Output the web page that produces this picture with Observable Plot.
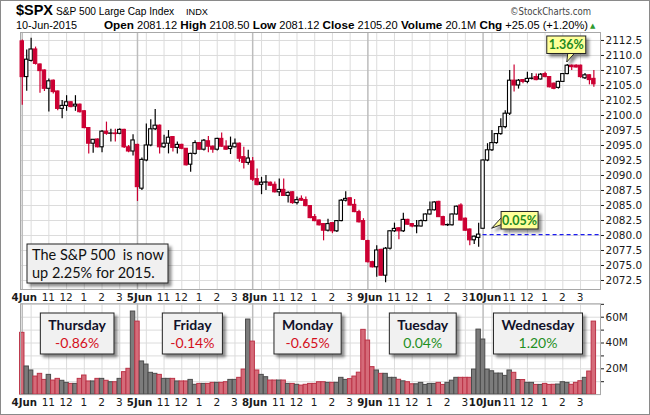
<!DOCTYPE html>
<html>
<head>
<meta charset="utf-8">
<script src="https://cdn.jsdelivr.net/npm/d3@7"></script>
<script src="https://cdn.jsdelivr.net/npm/@observablehq/plot@0.6"></script>
<style>
html,body{margin:0;padding:0;background:#fff;}
#wrap{position:relative;width:650px;height:415px;overflow:hidden;background:#fff;}
#wrap svg{position:absolute;left:0;}
#frame{position:absolute;left:0;top:0;width:648px;height:413px;border:1px solid #8a8a8a;pointer-events:none;}
</style>
</head>
<body>
<div id="wrap"><div id="frame"></div></div>
<script>
// ---- data: 15-minute bars, 4–10 June 2015 ----
const opens = [
2112.35,2106.4,2109.1,2111.0,2108.5,2107.5,2104.45,2105.8,2104.0,2101.1,2101.6,2102.2,2101.5,2101.8,2100.7,2097.9,2095.3,2096.0,2094.7,2097.3,2096.95,2097.0,2096.95,2097.6,2094.7,2094.0,
2095.1,2087.8,2092.5,2095.0,2097.7,2098.3,2094.7,2095.3,2096.4,2094.6,2095.1,2094.45,2091.8,2093.6,2095.4,2094.3,2095.7,2094.8,2094.3,2096.1,2094.8,2094.4,2094.7,2095.3,2093.06,2092.1,
2092.34,2089.4,2088.45,2088.8,2088.8,2088.45,2087.2,2087.6,2086.6,2087.2,2085.4,2086.1,2085.9,2084.9,2083.06,2082.5,2081.9,2080.8,2082.06,2080.7,2082.4,2085.8,2086.2,2085.1,2083.9,2082.4,
2079.07,2075.55,2074.7,2077.6,2073.3,2077.8,2080.7,2081.2,2080.7,2082.6,2081.9,2081.5,2081.5,2082.4,2083.5,2084.2,2085.6,2083.06,2081.7,2081.7,2083.5,2085.0,2082.8,2081.0,2079.2,2079.6,
2081.12,2092.5,2094.2,2095.4,2096.9,2098.06,2100.3,2105.8,2105.0,2105.9,2105.6,2106.1,2106.4,2106.0,2106.9,2106.4,2105.3,2104.6,2105.6,2106.9,2108.3,2108.3,2108.3,2106.2,2106.7,2106.1];
const highs = [
2112.6,2110.9,2112.89,2111.4,2108.6,2107.6,2106.1,2105.9,2104.1,2102.5,2103.3,2102.3,2103.3,2101.9,2100.8,2098.0,2096.0,2096.1,2097.5,2098.9,2097.7,2097.7,2097.8,2097.7,2095.0,2096.8,
2095.2,2092.9,2098.6,2099.3,2100.99,2098.4,2096.7,2097.5,2096.5,2095.6,2095.2,2094.5,2093.7,2095.8,2095.5,2096.0,2096.5,2094.9,2096.2,2097.1,2095.8,2096.4,2096.1,2095.4,2094.7,2094.2,
2093.01,2091.1,2089.7,2090.0,2088.9,2088.9,2089.4,2089.4,2087.3,2087.3,2086.4,2086.6,2086.4,2085.0,2083.5,2082.6,2082.0,2082.7,2082.1,2082.5,2086.0,2087.3,2086.3,2086.0,2084.2,2082.8,
2079.2,2075.7,2078.3,2077.7,2078.0,2080.8,2082.06,2081.3,2083.7,2082.7,2082.0,2082.5,2082.6,2083.6,2085.6,2085.62,2085.7,2083.2,2081.9,2083.6,2084.9,2085.3,2082.9,2081.1,2079.9,2082.06,
2092.6,2095.3,2097.5,2097.0,2099.45,2100.8,2107.5,2108.4,2106.0,2106.0,2107.2,2107.0,2106.9,2107.0,2107.2,2106.5,2105.4,2105.7,2107.0,2108.5,2108.4,2108.45,2108.4,2107.0,2106.8,2107.5];
const lows = [
2101.7,2104.05,2108.9,2108.4,2103.7,2104.0,2100.6,2103.6,2100.8,2099.45,2100.7,2101.3,2100.7,2100.4,2097.8,2093.6,2093.7,2094.6,2093.8,2096.7,2095.6,2095.6,2096.8,2094.5,2093.8,2093.23,
2085.67,2087.5,2092.3,2094.8,2097.5,2093.6,2094.5,2093.6,2093.9,2093.6,2094.3,2091.6,2090.55,2093.4,2094.2,2094.1,2093.8,2093.7,2094.1,2094.7,2094.2,2093.5,2094.6,2092.2,2091.1,2091.7,
2089.0,2088.3,2086.8,2087.5,2088.2,2087.1,2086.5,2086.5,2085.4,2085.2,2085.1,2085.7,2084.8,2082.8,2082.3,2081.6,2079.11,2080.6,2080.3,2080.5,2082.3,2085.6,2084.9,2083.8,2082.1,2079.15,
2075.4,2074.6,2073.06,2073.2,2072.14,2077.6,2080.5,2079.3,2080.5,2081.7,2081.3,2080.3,2081.4,2082.3,2083.4,2084.1,2083.0,2081.6,2081.5,2081.6,2083.4,2082.4,2080.7,2078.3,2078.5,2078.06,
2081.12,2092.3,2094.0,2095.2,2096.7,2097.8,2100.0,2103.9,2104.4,2105.3,2105.3,2105.9,2105.8,2105.9,2106.3,2104.6,2104.3,2104.4,2105.5,2106.8,2107.5,2107.9,2106.2,2106.0,2105.1,2104.7];
const closes = [
2106.4,2109.3,2111.0,2108.6,2107.4,2104.45,2105.7,2103.9,2101.1,2101.6,2102.2,2101.4,2101.8,2100.55,2097.9,2095.3,2095.95,2094.7,2097.3,2096.95,2097.0,2096.9,2097.6,2094.7,2094.0,2095.84,
2088.06,2092.6,2095.0,2097.7,2098.3,2094.7,2095.3,2096.3,2094.6,2095.1,2094.45,2091.7,2093.6,2095.4,2094.3,2095.8,2094.8,2094.3,2096.1,2094.8,2094.3,2094.8,2095.3,2092.8,2092.1,2092.83,
2089.3,2088.4,2088.8,2088.85,2088.3,2087.2,2087.6,2086.6,2087.1,2085.4,2085.9,2085.8,2084.9,2082.9,2082.4,2081.7,2080.8,2081.9,2080.7,2082.4,2085.8,2086.1,2085.0,2083.9,2082.2,2079.28,
2075.55,2074.7,2077.5,2073.3,2077.8,2080.7,2081.1,2080.7,2082.6,2081.8,2081.5,2081.55,2082.4,2083.5,2084.2,2085.5,2083.06,2081.7,2081.75,2083.5,2084.8,2082.5,2080.8,2079.2,2079.8,2080.15,
2092.5,2094.2,2095.4,2096.9,2098.06,2100.3,2105.8,2105.0,2105.8,2105.6,2106.1,2106.15,2105.9,2106.8,2106.4,2104.7,2104.45,2105.6,2106.9,2108.3,2108.06,2108.0,2106.4,2106.7,2105.9,2105.2];
const volumes = [ // millions of shares
47.9,21.8,18.7,14.0,16.1,11.4,15.3,10.9,12.2,10.7,9.1,8.3,8.3,12.2,14.8,10.2,10.2,12.2,12.2,10.7,9.6,9.6,12.2,17.4,20.0,64.4,
56.6,25.7,23.3,16.9,16.1,15.3,12.2,12.2,12.2,10.2,10.2,10.2,11.4,7.6,8.3,8.3,8.3,9.1,9.1,9.1,9.6,11.4,11.4,13.0,19.4,58.2,
41.1,18.7,15.3,13.5,10.9,10.9,10.9,10.9,8.3,8.3,7.6,7.0,7.6,8.3,8.3,9.6,9.6,9.1,9.1,9.1,13.0,11.4,12.0,14.0,17.0,50.2,
41.9,21.3,18.7,16.1,16.1,13.0,13.0,11.5,10.3,9.6,8.0,8.0,9.1,7.5,8.3,8.3,9.1,7.5,9.1,10.8,13.0,13.0,13.0,13.0,19.4,50.4,
42.7,19.4,18.1,16.3,16.3,14.5,18.7,16.9,11.3,11.3,9.1,9.1,7.5,7.5,8.3,7.5,7.6,7.8,9.6,9.1,7.6,9.1,10.4,13.0,17.9,56.6];

const dayLabels = ["4Jun","5Jun","8Jun","9Jun","10Jun"];
const dayNames = ["Thursday","Friday","Monday","Tuesday","Wednesday"];
const dayChanges = ["-0.86%","-0.14%","-0.65%","0.04%","1.20%"];
const gridHours = [10,11,12,13,14,15];
const priceTicks = [2072.5,2075,2077.5,2080,2082.5,2085,2087.5,2090,2092.5,2095,2097.5,2100,2102.5,2105,2107.5,2110,2112.5];
const volumeGrid = [10,20,30,40,50,60,70];
const volumeLabels = [20,40,60];
const prevClose = 2080.15;
const noteLines = ["The S&P 500  is now","up 2.25% for 2015."];
const headerTitle = ["$SPX","S&P 500 Large Cap Index","INDX"];
const headerDate = "10-Jun-2015";
const headerStats = [["Open","2081.12"],["High","2108.50"],["Low","2081.12"],["Close","2105.20"],["Volume","20.1M"],["Chg","+25.05 (+1.20%)"]];
const credit = "\u00A9StockCharts.com";

// ---- derived ----
const barsPerDay = 26;
const bars = opens.map((o,i)=>({i, o, h: highs[i], l: lows[i], c: closes[i], v: volumes[i], up: closes[i] >= o}));
const dayStarts = dayLabels.map((_,k)=>k*barsPerDay);
const hourIndex = h => (h*60 - 570)/15;
const hourLines = dayStarts.flatMap(s => gridHours.map(h => s + hourIndex(h)));
const hourText = dayStarts.flatMap(s => gridHours.filter(h=>h>=11).map(h => ({x: s + hourIndex(h), t: String(h%12||12)})));

const RED = "#cc0033", VRED = "#d56b79", VREDS = "#bb3347", VGRAY = "#7c7c7c", VGRAYS = "#4c4c4c";
const xDomain = [-0.4, 130.5];
const AX = "#1a1a1a";

const dayLabelMark = () => Plot.text(dayStarts, {x: d => d, frameAnchor: "bottom", dy: 8, dx: 2, lineAnchor: "middle",
  text: (d,k) => dayLabels[k], fontWeight: "bold", fontSize: 10.2, fill: AX});
const hourLabelMark = () => Plot.text(hourText, {x: "x", frameAnchor: "bottom", dy: 8, dx: -0.5, lineAnchor: "middle",
  text: "t", fontSize: 10.5, fill: AX});

const priceChart = Plot.plot({
  width: 650, height: 300,
  marginTop: 32, marginBottom: 11, marginLeft: 20, marginRight: 50,
  x: {type: "linear", domain: xDomain, axis: null},
  y: {domain: [2071.0, 2113.83], axis: null, label: null},
  color: {type: "identity"},
  style: {fontFamily: "'DejaVu Sans', sans-serif", fontSize: "10.5px", color: AX, background: "transparent", overflow: "visible"},
  marks: [
    Plot.ruleY(priceTicks, {stroke: "#dcdcdc", strokeWidth: 1}),
    Plot.ruleX(hourLines, {stroke: "#dcdcdc", strokeWidth: 1}),
    Plot.ruleX(dayStarts, {stroke: "#bdbdbd", strokeWidth: 1.5}),
    Plot.frame({stroke: "#a8a8a8"}),
    Plot.ruleY([prevClose], {x1: dayStarts[4], x2: xDomain[1], stroke: "#1c1cf0", strokeDasharray: "4,3", strokeWidth: 1.2}),
    Plot.ruleX(bars, {x: "i", y1: "l", y2: "h", stroke: d => d.up ? "#000" : RED, strokeWidth: 1.2}),
    Plot.rect(bars, {x1: d => d.i - 0.38, x2: d => d.i + 0.38, y1: "o", y2: "c",
      fill: d => d.up ? "#fff" : RED, stroke: d => d.up ? "#000" : RED, strokeWidth: 1.1}),
    Plot.axisY(priceTicks, {anchor: "right", tickSize: 3, tickPadding: 2, tickFormat: d => d.toFixed(1), label: null, fontSize: 10.5}),
    dayLabelMark(),
    hourLabelMark()
  ]
});
priceChart.style.top = "0px";
document.getElementById("wrap").appendChild(priceChart);

const volChart = Plot.plot({
  width: 650, height: 115,
  marginTop: 3.3, marginBottom: 20.9, marginLeft: 20, marginRight: 50,
  x: {type: "linear", domain: xDomain, axis: null},
  y: {domain: [0, 70.4], axis: null, label: null},
  color: {type: "identity"},
  style: {fontFamily: "'DejaVu Sans', sans-serif", fontSize: "10.5px", color: AX, background: "transparent", overflow: "visible"},
  marks: [
    Plot.ruleY(volumeGrid, {stroke: "#dcdcdc"}),
    Plot.ruleX(hourLines, {stroke: "#dcdcdc"}),
    Plot.ruleX(dayStarts, {stroke: "#bdbdbd", strokeWidth: 1.5}),
    Plot.rect(bars, {x1: d => d.i - 0.5, x2: d => d.i + 0.5, y1: d => 0, y2: "v",
      fill: d => d.up ? VGRAY : VRED, stroke: d => d.up ? VGRAYS : VREDS, strokeWidth: 1}),
    Plot.frame({stroke: "#a8a8a8"}),
    Plot.axisY(volumeGrid, {anchor: "right", tickSize: 3, tickPadding: 2, tickFormat: d => volumeLabels.includes(d) ? d + "M" : "", label: null, fontSize: 10.5}),
    dayLabelMark(),
    hourLabelMark()
  ]
});
const VOLTOP = 300;
volChart.style.top = VOLTOP + "px";
document.getElementById("wrap").appendChild(volChart);

// ---- overlay: header and annotations ----
const xs = priceChart.scale("x"), ys = priceChart.scale("y");
const ov = d3.select("#wrap").append("svg").attr("width", 650).attr("height", 415)
  .style("top", "0px").style("pointer-events", "none");
const defs = ov.append("defs");
defs.append("filter").attr("id", "sh").attr("x", "-20%").attr("y", "-30%").attr("width", "150%").attr("height", "170%")
  .append("feDropShadow").attr("dx", 3).attr("dy", 3).attr("stdDeviation", 1.6)
  .attr("flood-color", "#000").attr("flood-opacity", 0.45);

const SANS = "'Liberation Sans', Arial, sans-serif";
// header line 1
ov.append("text").attr("x", 16).attr("y", 15.3).attr("font-family", SANS).attr("font-weight", "bold")
  .attr("font-size", 14).attr("fill", "#000").attr("textLength", 37).attr("lengthAdjust", "spacingAndGlyphs").text(headerTitle[0]);
ov.append("text").attr("x", 56).attr("y", 15.3).attr("font-family", SANS).attr("font-size", 10.2)
  .attr("fill", "#000").text(headerTitle[1]);
ov.append("text").attr("x", 186).attr("y", 15.3).attr("font-family", SANS).attr("font-size", 9.2)
  .attr("fill", "#000").text(headerTitle[2]);
ov.append("text").attr("x", 510).attr("y", 15.3).attr("font-family", "'DejaVu Sans', sans-serif").attr("font-size", 10)
  .attr("fill", "#444").attr("textLength", 81).attr("lengthAdjust", "spacingAndGlyphs").text(credit);
// header line 2
ov.append("text").attr("x", 16).attr("y", 28.5).attr("font-family", SANS).attr("font-size", 10.8)
  .attr("fill", "#000").attr("textLength", 61).attr("lengthAdjust", "spacingAndGlyphs").text(headerDate);
const st = ov.append("text").attr("x", 104).attr("y", 28.5).attr("font-family", SANS).attr("font-size", 11)
  .attr("fill", "#000").attr("textLength", 484).attr("lengthAdjust", "spacingAndGlyphs");
headerStats.forEach(([k, v], j) => {
  st.append("tspan").attr("font-weight", "bold").attr("font-size", 11.6).text((j ? "  " : "") + k);
  st.append("tspan").text(" " + v);
});
ov.append("text").attr("x", 590).attr("y", 28).attr("font-family", "'DejaVu Sans', sans-serif").attr("font-size", 7)
  .attr("fill", "#2f9a2f").text("\u25B2");

// callouts (yellow)
function callout(bx, by, bw, bh, tail, label) {
  const g = ov.append("g").attr("filter", "url(#sh)");
  g.append("path").attr("d", tail).attr("fill", "#ffff99").attr("stroke", "#222").attr("stroke-width", 1);
  g.append("rect").attr("x", bx).attr("y", by).attr("width", bw).attr("height", bh).attr("fill", "#ffff99").attr("stroke", "#222");
  ov.append("text").attr("x", bx + bw/2).attr("y", by + bh/2 + 4.3).attr("text-anchor", "middle")
    .attr("font-family", "Lato, sans-serif").attr("font-weight", "bold").attr("font-size", 12.5)
    .attr("fill", "#1f8a1f").text(label);
}
{
  const k = 123, tx = xs.apply(k), ty = ys.apply(highs[k]) - 2;
  const bx = tx - 20, by = ty - 26, bw = 39, bh = 17.5;
  const tail = `M${tx+1},${by+bh-0.5} L${tx},${ty} L${tx+8},${by+bh-0.5}`;
  callout(bx, by, bw, bh, tail, ((highs[k] - prevClose) / prevClose * 100).toFixed(2) + "%");
}
{
  const k = dayStarts[4], tx = xs.apply(k) + 9, ty = ys.apply(opens[k]);
  const bx = tx + 9.5, by = ty - 16.8, bw = 37, bh = 17.5;
  const tail = `M${bx+0.5},${by+6} L${tx},${ty} L${bx+0.5},${by+13}`;
  callout(bx, by, bw, bh, tail, ((opens[k] - prevClose) / prevClose * 100).toFixed(2) + "%");
}

// note box
{
  const g = ov.append("g");
  g.append("rect").attr("x", 27).attr("y", 244).attr("width", 141).attr("height", 39)
    .attr("fill", "#f0f0f0").attr("stroke", "#222").attr("filter", "url(#sh)");
  noteLines.forEach((t, j) => g.append("text").attr("x", 32).attr("y", 259.5 + j*18)
    .attr("font-family", "Lato, sans-serif").attr("font-size", 14.5).attr("fill", "#111")
    .style("white-space", "pre").text(t));
}

// day boxes in the volume panel
dayNames.forEach((name, k) => {
  const cx = xs.apply(k*barsPerDay + 12.5);
  const g = ov.append("g");
  const t1 = g.append("text").attr("x", cx).attr("y", 329.5).attr("text-anchor", "middle")
    .attr("font-family", "Lato, sans-serif").attr("font-weight", "bold").attr("font-size", 14)
    .attr("fill", "#12122a").text(name);
  const neg = dayChanges[k].startsWith("-");
  const t2 = g.append("text").attr("x", cx).attr("y", 347.5).attr("text-anchor", "middle")
    .attr("font-family", "Lato, sans-serif").attr("font-size", 14)
    .attr("fill", neg ? "#d4101c" : "#1f8f1f").text(dayChanges[k]);
  const w = Math.max(t1.node().getComputedTextLength(), t2.node().getComputedTextLength()) + 16;
  g.insert("rect", "text").attr("x", cx - w/2).attr("y", 313).attr("width", w).attr("height", 41)
    .attr("fill", "#f1f1f1").attr("stroke", "#222").attr("filter", "url(#sh)");
});
</script>
</body>
</html>
